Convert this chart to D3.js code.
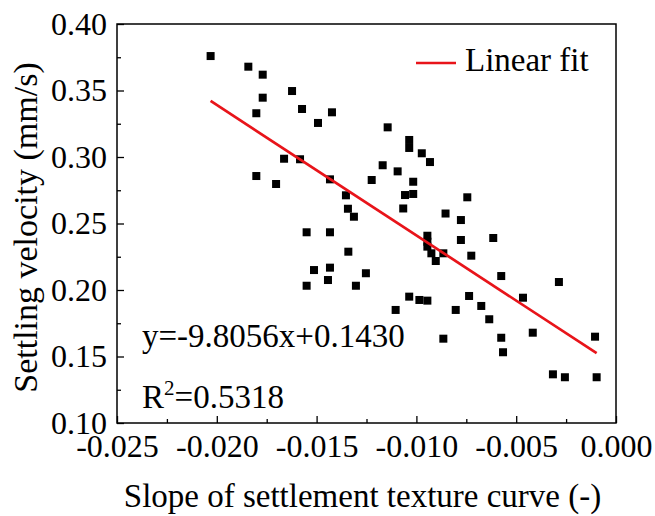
<!DOCTYPE html>
<html>
<head>
<meta charset="utf-8">
<script src="https://cdn.jsdelivr.net/npm/d3@7"></script>
<style>
  body { margin: 0; background: #fff; }
  svg { display: block; font-family: "Liberation Serif", "Times New Roman", serif; }
</style>
</head>
<body>
<div id="chart"></div>
<script>
"use strict";

// slope of settlement texture curve (x) and settling velocity mm/s (y)
var slope = [
  -0.02031, -0.01842, -0.01770, -0.01623, -0.01770, -0.01802, -0.01573, -0.01423, -0.01493,
  -0.01663, -0.01583, -0.01802, -0.01703, -0.01433, -0.01224, -0.01353, -0.01343, -0.01313,
  -0.01144, -0.01036, -0.01036, -0.00973, -0.00932, -0.01169, -0.01094, -0.01016, -0.01057,
  -0.01016, -0.01066, -0.00745, -0.00854, -0.00777,
  -0.01550, -0.01433, -0.01341, -0.01513, -0.01433, -0.01443, -0.01253, -0.01550, -0.01303,
  -0.00945, -0.00945, -0.00945, -0.00925, -0.00903, -0.00865, -0.00777, -0.00615, -0.00725,
  -0.00575, -0.00286, -0.00466, -0.00736, -0.01036, -0.00985, -0.00945, -0.01104, -0.00803,
  -0.00675, -0.00635, -0.00417, -0.00575, -0.00566, -0.00865, -0.00105, -0.00316, -0.00256,
  -0.00097
];
var velocity = [
  0.3759, 0.3679, 0.3619, 0.3496, 0.3446, 0.3329, 0.3361, 0.3336, 0.3256,
  0.2987, 0.2983, 0.2857, 0.2797, 0.2832, 0.2827, 0.2712, 0.2611, 0.2551,
  0.3223, 0.3128, 0.3068, 0.3028, 0.2962, 0.2938, 0.2892, 0.2814, 0.2714,
  0.2722, 0.2613, 0.2697, 0.2575, 0.2526,
  0.2434, 0.2434, 0.2288, 0.2150, 0.2168, 0.2075, 0.2126, 0.2032, 0.2032,
  0.2408, 0.2363, 0.2326, 0.2276, 0.2218, 0.2276, 0.2376, 0.2391, 0.2258,
  0.2105, 0.2060, 0.1942, 0.1955, 0.1950, 0.1925, 0.1920, 0.1850, 0.1850,
  0.1880, 0.1780, 0.1679, 0.1641, 0.1532, 0.1634, 0.1649, 0.1366, 0.1344,
  0.1344
];

var xTicks = [-0.025, -0.020, -0.015, -0.010, -0.005, 0.000];
var xMinor = [-0.0225, -0.0175, -0.0125, -0.0075, -0.0025];
var yTicks = [0.10, 0.15, 0.20, 0.25, 0.30, 0.35, 0.40];
var yMinor = [0.125, 0.175, 0.225, 0.275, 0.325, 0.375];

var fitSlope = -9.8056, fitIntercept = 0.1430;

var width = 655, height = 516;
var margin = { top: 24, right: 39, bottom: 93, left: 117 };
var w = width - margin.left - margin.right,
    h = height - margin.top - margin.bottom;

var svg = d3.select("#chart").append("svg")
  .attr("width", width)
  .attr("height", height)
  .append("g")
  .attr("transform", "translate(" + margin.left + "," + margin.top + ")");

var x = d3.scaleLinear().domain([-0.025, 0]).range([0, w]);
var y = d3.scaleLinear().domain([0.10, 0.40]).range([h, 0]);

// plain hyphen instead of d3's unicode minus, like the original
var fmtX = function (d) { return d.toFixed(3).replace("-0.000", "0.000"); };
var fmtY = function (d) { return d.toFixed(2); };

// ticks point inward
var xAxis = svg.append("g")
  .attr("transform", "translate(0," + h + ")")
  .call(d3.axisBottom(x).tickValues(xTicks).tickSize(-7).tickPadding(13).tickFormat(fmtX));
svg.append("g")
  .attr("transform", "translate(0," + h + ")")
  .call(d3.axisBottom(x).tickValues(xMinor).tickSize(-4).tickFormat(""));

var yAxis = svg.append("g")
  .call(d3.axisLeft(y).tickValues(yTicks).tickSize(-7).tickPadding(10).tickFormat(fmtY));
svg.append("g")
  .call(d3.axisLeft(y).tickValues(yMinor).tickSize(-4).tickFormat(""));

svg.selectAll(".domain").remove();
svg.selectAll(".tick line").attr("stroke", "#000").attr("stroke-width", 1.3);
svg.selectAll(".tick text")
  .attr("fill", "#000")
  .style("font-size", "32px")
  .style("font-family", "'Liberation Serif', 'Times New Roman', serif");
// D3's default tick-label offset is a bit low for this font
xAxis.selectAll(".tick text").attr("dy", "0.66em");

svg.append("rect")
  .attr("width", w).attr("height", h)
  .attr("fill", "none").attr("stroke", "#000").attr("stroke-width", 1.5);

// points
var pts = slope.map(function (s, i) { return { x: s, y: velocity[i] }; });
var sz = 8;
svg.selectAll("rect.pt")
  .data(pts)
  .enter().append("rect")
  .attr("class", "pt")
  .attr("x", function (d) { return x(d.x) - sz / 2; })
  .attr("y", function (d) { return y(d.y) - sz / 2; })
  .attr("width", sz).attr("height", sz)
  .attr("fill", "#000");

// linear fit across the data range
var xExt = d3.extent(slope);
svg.append("line")
  .attr("x1", x(xExt[0])).attr("y1", y(fitSlope * xExt[0] + fitIntercept))
  .attr("x2", x(xExt[1])).attr("y2", y(fitSlope * xExt[1] + fitIntercept))
  .attr("stroke", "#e8141a").attr("stroke-width", 2.7);

// legend
svg.append("line")
  .attr("x1", 299).attr("x2", 339).attr("y1", 39).attr("y2", 39)
  .attr("stroke", "#e8141a").attr("stroke-width", 2.7);
svg.append("text")
  .attr("x", 348).attr("y", 47)
  .style("font-size", "33px")
  .text("Linear fit");

// equation + R2
svg.append("text")
  .attr("x", 25).attr("y", 323)
  .style("font-size", "33px")
  .text("y=-9.8056x+0.1430");
var r2 = svg.append("text")
  .attr("x", 25).attr("y", 384)
  .style("font-size", "33px");
r2.append("tspan").text("R");
r2.append("tspan").attr("dy", -13).style("font-size", "21px").text("2");
r2.append("tspan").attr("dy", 13).text("=0.5318");

// axis titles
svg.append("text")
  .attr("x", w / 2 - 4).attr("y", 483)
  .attr("text-anchor", "middle")
  .style("font-size", "33px")
  .text("Slope of settlement texture curve (-)");

svg.append("text")
  .attr("transform", "translate(" + (37 - margin.left) + "," + (h / 2 + 4) + ") rotate(-90)")
  .attr("text-anchor", "middle")
  .style("font-size", "34px")
  .text("Settling velocity (mm/s)");
</script>
</body>
</html>
